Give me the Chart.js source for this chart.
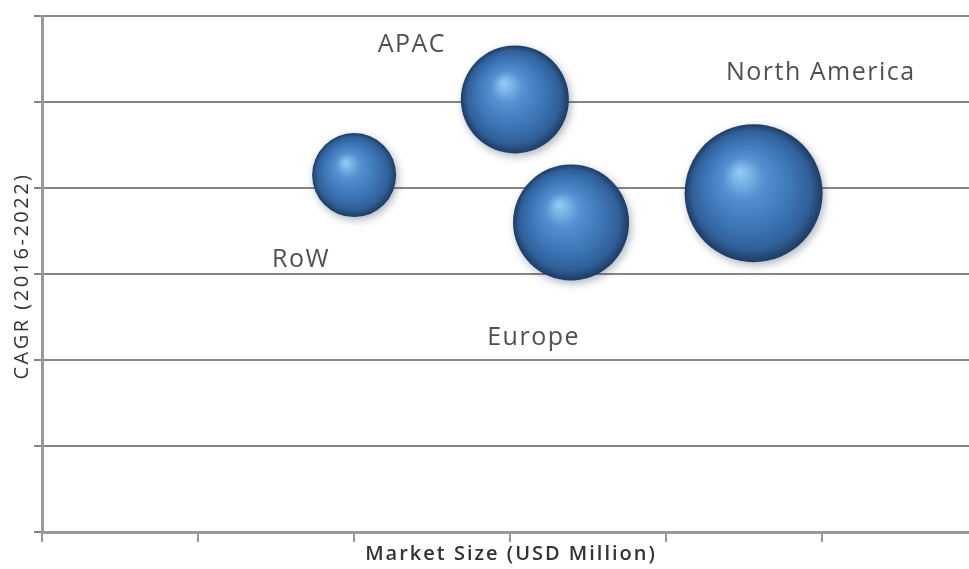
<!DOCTYPE html>
<html lang="en">
<head>
  <meta charset="UTF-8">
  <title>Regional Market Bubble Chart</title>
  <script src="https://cdn.jsdelivr.net/npm/chart.js"></script>
  <style>
    body { margin: 0; background: #fff; }
    #wrap { width: 969px; height: 569px; position: relative; }
  </style>
</head>
<body>
  <div id="wrap"><canvas id="bubbleChart"></canvas></div>

  <script>
    // Regions and their read-off values (axis units, no tick labels in the original)
    const regions = ['RoW', 'APAC', 'Europe', 'North America'];
    const marketSize = [2.0, 3.03, 3.39, 4.56];
    const cagr = [4.15, 5.03, 3.6, 3.94];
    const bubbleR = [42, 54, 58, 69];

    // Where each region's name sits (data units)
    const labelX = [1.66, 2.37, 3.15, 4.99];
    const labelY = [3.16, 5.66, 2.26, 5.34];

    const xTitle = 'Market Size (USD Million)';
    const yTitle = 'CAGR (2016-2022)';

    const points = regions.map((r, i) => ({ x: marketSize[i], y: cagr[i], r: bubbleR[i] }));

    // Shaded sphere look for each bubble
    function sphereFill(context) {
      const chart = context.chart;
      const raw = context.raw;
      if (!raw || !chart.scales.x) return '#3f78b8';
      const cx = chart.scales.x.getPixelForValue(raw.x);
      const cy = chart.scales.y.getPixelForValue(raw.y);
      if (!isFinite(cx) || !isFinite(cy)) return '#3f78b8';
      const r = raw.r;
      const g = chart.ctx.createRadialGradient(cx - r * 0.2, cy - r * 0.3, r * 0.03, cx, cy, r);
      g.addColorStop(0, '#8fc8f5');
      g.addColorStop(0.28, '#5590d0');
      g.addColorStop(0.6, '#3e77b8');
      g.addColorStop(0.86, '#2f5f98');
      g.addColorStop(1, '#1e3b62');
      return g;
    }

    const shadowPlugin = {
      id: 'shadow',
      beforeDatasetsDraw(chart) {
        const ctx = chart.ctx;
        ctx.save();
        ctx.shadowColor = 'rgba(20,40,70,0.35)';
        ctx.shadowBlur = 8;
        ctx.shadowOffsetX = 2;
        ctx.shadowOffsetY = 3;
      },
      afterDatasetsDraw(chart) {
        chart.ctx.restore();
      }
    };

    const textPlugin = {
      id: 'texts',
      afterDraw(chart) {
        const ctx = chart.ctx;
        const xs = chart.scales.x, ys = chart.scales.y;
        const area = chart.chartArea;
        ctx.save();
        ctx.textAlign = 'center';
        ctx.textBaseline = 'middle';

        // region names
        ctx.font = '25px "Open Sans", sans-serif';
        ctx.letterSpacing = '1.5px';
        ctx.fillStyle = '#505050';
        regions.forEach((name, i) => {
          ctx.fillText(name, xs.getPixelForValue(labelX[i]), ys.getPixelForValue(labelY[i]));
        });

        // axis titles
        ctx.fillStyle = '#333';
        ctx.font = '600 20px "Open Sans", sans-serif';
        ctx.letterSpacing = '2px';
        ctx.fillText(xTitle, 511, area.bottom + 22);

        ctx.font = '20px "Open Sans", sans-serif';
        ctx.letterSpacing = '2.5px';
        ctx.translate(22, (area.top + area.bottom) / 2 + 2);
        ctx.rotate(-Math.PI / 2);
        ctx.fillText(yTitle, 0, 0);
        ctx.restore();
      }
    };

    // keep tick marks on whole units only (no extra mark at the cut-off right edge)
    const wholeTicks = axis => { axis.ticks = axis.ticks.filter(t => Number.isInteger(t.value)); };

    const ctx = document.getElementById('bubbleChart').getContext('2d');
    new Chart(ctx, {
      type: 'bubble',
      data: {
        datasets: [{
          label: 'Regions',
          data: points,
          backgroundColor: sphereFill,
          borderWidth: 0,
          hoverBorderWidth: 0
        }]
      },
      options: {
        responsive: true,
        maintainAspectRatio: false,
        animation: false,
        events: [],
        layout: { autoPadding: false, padding: { top: 16, right: 0, left: 34, bottom: 27 } },
        plugins: {
          legend: { display: false },
          tooltip: { enabled: false }
        },
        scales: {
          x: {
            type: 'linear',
            min: 0,
            max: 5.94,
            afterBuildTicks: wholeTicks,
            ticks: { display: false, stepSize: 1 },
            grid: { drawOnChartArea: false, drawTicks: true, tickLength: 10, color: '#9a9a9a', lineWidth: 2 },
            border: { color: '#9a9a9a', width: 3 }
          },
          y: {
            type: 'linear',
            min: 0,
            max: 6,
            ticks: { display: false, stepSize: 1 },
            grid: { color: '#858585', lineWidth: 2, drawTicks: true, tickLength: 8 },
            border: { color: '#9a9a9a', width: 3 }
          }
        }
      },
      plugins: [shadowPlugin, textPlugin]
    });
  </script>
</body>
</html>
